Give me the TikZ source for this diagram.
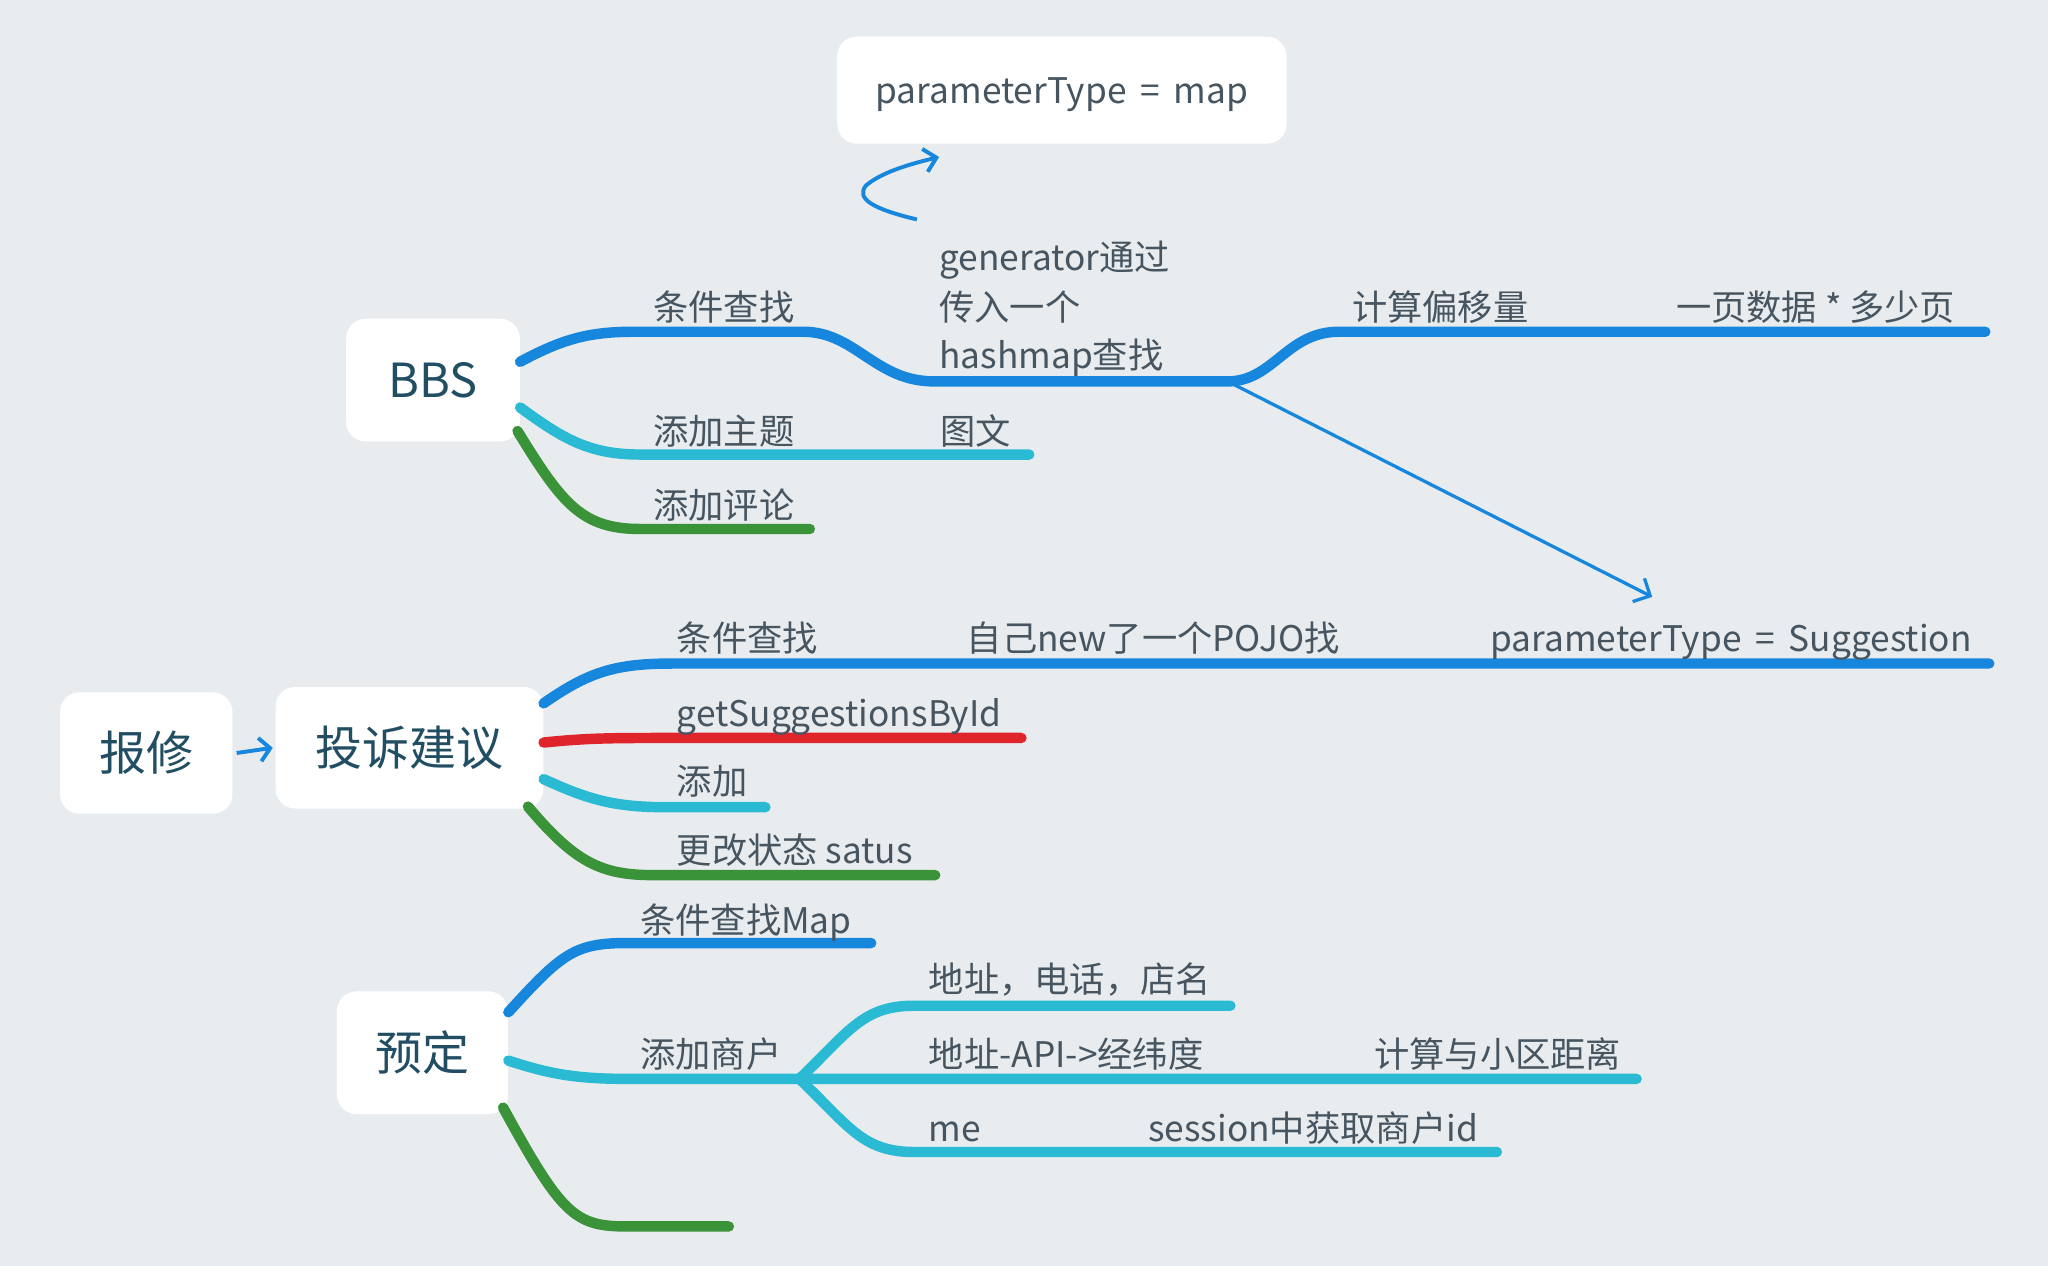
\documentclass[tikz,border=0pt]{standalone}
\usepackage{fontspec}
\setmainfont{Noto Sans CJK SC}
\usetikzlibrary{arrows.meta,calc}
\definecolor{bg}{RGB}{232,236,239}
\definecolor{txt}{RGB}{70,85,96}
\definecolor{boxtxt}{RGB}{33,78,98}
\definecolor{cblue}{RGB}{23,135,221}
\definecolor{ccyan}{RGB}{42,186,211}
\definecolor{cgreen}{RGB}{58,146,57}
\definecolor{cred}{RGB}{224,36,43}
\begin{document}
\begin{tikzpicture}[x=1pt,y=-1pt,
  box/.style={fill=white,rounded corners=15pt,inner sep=0pt,text=boxtxt,font=\fontsize{36}{40}\selectfont},
  lbl/.style={anchor=base west,inner sep=0pt,text=txt,font=\fontsize{27}{32}\selectfont},
  br/.style={line width=8pt,line cap=round},
  thinarrow/.style={cblue,line width=2.5pt,-{Straight Barb[length=10pt,width=20pt,line width=2.5pt]}}
]
\fill[bg] (0,0) rectangle (1568,969);
\useasboundingbox (0,0) rectangle (1568,969);
% boxes
\node[box,minimum width=344pt,minimum height=82pt,text height=20pt,text depth=0pt,font=\fontsize{27}{32}\selectfont,text=txt] (pmap) at (813,69) {parameterType\ \,=\ \,map};
\node[box,minimum width=133pt,minimum height=94pt] (bbs) at (331.5,291) {BBS};
\node[box,minimum width=132pt,minimum height=93pt] (baoxiu) at (112,576.5) {报修};
\node[box,minimum width=205pt,minimum height=93pt] (tousu) at (313.5,572.5) {投诉建议};
\node[box,minimum width=131pt,minimum height=94pt] (yuding) at (323.5,806) {预定};
% coordinates
\coordinate (s1) at (702,168);
\coordinate (hb) at (940,292);
\coordinate (sugg) at (1265,457);
\coordinate (ta) at (612,826);
% BBS branches
\draw[br,cblue] ([yshift=14pt]bbs.east) .. controls (430,260) and (450,254) .. (485,254) -- (615,254) .. controls (655,254) and (670,292) .. (715,292) -- (hb) .. controls (975,292) and (985,254) .. (1025,254) -- (1520,254);
\draw[br,ccyan] ([yshift=-21pt]bbs.east) .. controls (430,335) and (450,348) .. (490,348) -- (788,348);
\draw[br,cgreen] ([xshift=-2pt,yshift=-39pt]bbs.east) .. controls (430,385) and (445,405) .. (490,405) -- (620,405);
\draw[thinarrow] (hb) -- (sugg);
\draw[cblue,line width=3pt,-{Straight Barb[length=9pt,width=18pt,line width=3pt]}] (s1) .. controls (668,160) and (655,152) .. (663,142) .. controls (675,132) and (695,126) .. ([xshift=-94pt,yshift=-10pt]pmap.south);
% labels BBS
\node[lbl] (l1) at (500,245) {条件查找};
\node[lbl] (l2) at (719,207) {generator通过};
\node[lbl] (l3) at (719,245) {传入一个};
\node[lbl] (l4) at (719,282) {hashmap查找};
\node[lbl] (l5) at (1035,245) {计算偏移量};
\node[lbl] (l6) at (1283,245) {一页数据\ *\ 多少页};
\node[lbl] (l7) at (500,340) {添加主题};
\node[lbl] (l8) at (720,340) {图文};
\node[lbl] (l9) at (500,397) {添加评论};
% 报修 -> 投诉建议
\draw[cblue,line width=3pt,-{Straight Barb[length=8pt,width=18pt,line width=3pt]}] (baoxiu.east) ++(3,0) -- ([xshift=-2pt]tousu.west);
% 投诉建议 branches
\draw[br,cblue] ([yshift=34pt]tousu.east) .. controls (450,515) and (470,508) .. (515,508) -- (1523,508);
\draw[br,cred] ([yshift=4pt]tousu.east) .. controls (450,565) and (470,565) .. (510,565) -- (782,565);
\draw[br,ccyan] ([yshift=-24pt]tousu.east) .. controls (450,612) and (470,618) .. (510,618) -- (586,618);
\draw[br,cgreen] ([xshift=-12pt,yshift=-45pt]tousu.east) .. controls (440,660) and (460,670) .. (500,670) -- (716,670);
\node[lbl] (m1) at (518,499) {条件查找};
\node[lbl] (m2) at (740,499) {自己new了一个POJO找};
\node[lbl] (m3) at (1141,499) {parameterType\ \,=\ \,Suggestion};
\node[lbl] (m4) at (518,556) {getSuggestionsById};
\node[lbl] (m5) at (518,608) {添加};
\node[lbl] (m6) at (518,661) {更改状态 satus};
% 预定 branches
\draw[br,cblue] ([yshift=31pt]yuding.east) .. controls (430,730) and (440,722) .. (480,722) -- (667,722);
\draw[br,ccyan] ([yshift=-6pt]yuding.east) .. controls (420,822) and (440,826) .. (480,826) -- (ta) -- (1253,826);
\draw[br,ccyan] (ta) .. controls (650,790) and (660,770) .. (700,770) -- (942,770);
\draw[br,ccyan] (ta) .. controls (650,862) and (660,882) .. (700,882) -- (1146,882);
\draw[br,cgreen] ([xshift=-4pt,yshift=-42pt]yuding.east) .. controls (430,930) and (440,939) .. (480,939) -- (558,939);
\node[lbl] (n1) at (490,715) {条件查找Map};
\node[lbl] (n2) at (490,817) {添加商户};
\node[lbl] (n3) at (711,760) {地址，电话，店名};
\node[lbl] (n4) at (711,817) {地址-API->经纬度};
\node[lbl] (n5) at (1052,817) {计算与小区距离};
\node[lbl] (n6) at (711,874) {me};
\node[lbl] (n7) at (879,874) {session中获取商户id};
\end{tikzpicture}
\end{document}
